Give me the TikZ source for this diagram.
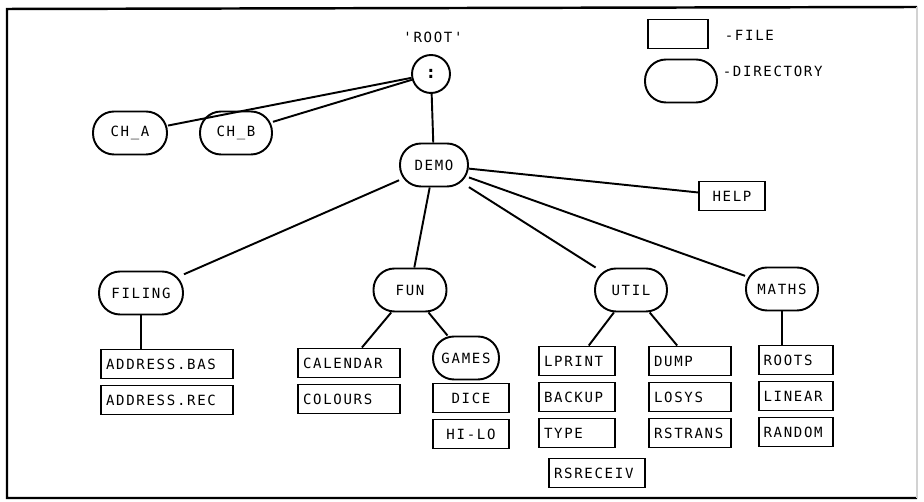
\documentclass[tikz,border=0pt]{standalone}
\usepackage{fontspec}
\newfontfamily\plotter[LetterSpace=12]{DejaVu Sans Mono}
\usetikzlibrary{calc}

\begin{document}
\begin{tikzpicture}[x=0.02cm,y=-0.02cm,line width=1.1pt,
  every node/.style={font=\plotter\fontsize{8}{9}\selectfont},
  dirnode/.style={draw, rounded corners=0.42cm, minimum height=0.86cm, minimum width=#1, inner sep=0pt},
  filenode/.style={draw, minimum height=0.58cm, inner xsep=2.8pt, inner ysep=0pt, text width=#1, align=left}]
\useasboundingbox (0,0) rectangle (924,502);
% frame
\draw[line width=1.4pt] (917,7) -- (7,9) -- (7,498) -- (917,498);
\draw[gray!35, line width=0.6pt] (917,7) -- (917,498);
% legend
\node[filenode=1.0cm] (legfile) at (678,34) {};
\node[anchor=west] (legfiletext) at (718,35) {-FILE};
\node[dirnode=1.44cm] (legdir) at (681,81) {};
\node[anchor=west] (legdirtext) at (716,71) {-DIRECTORY};
% root and top level
\node (rootlabel) at (433,37) {'ROOT'};
\node[draw, circle, minimum size=0.76cm, inner sep=0pt, font=\plotter\bfseries\fontsize{10}{10}\selectfont] (root) at (431,74) {:};
\node[dirnode=1.48cm] (cha) at (130,133) {CH\_A};
\node[dirnode=1.44cm] (chb) at (236,133) {CH\_B};
\node[dirnode=1.36cm] (demo) at (434,165) {DEMO};
\node[filenode=1.12cm, align=center] (help) at (732,196) {HELP};
% sub directories
\node[dirnode=1.68cm] (filing) at (141,293) {FILING};
\node[dirnode=1.46cm] (fun) at (410,290) {FUN};
\node[dirnode=1.32cm] (games) at (466,358) {GAMES};
\node[dirnode=1.44cm] (util) at (631,290) {UTIL};
\node[dirnode=1.44cm] (maths) at (782,289) {MATHS};
% files
\node[filenode=2.44cm] (addrbas) at (167,364) {ADDRESS.BAS};
\node[filenode=2.44cm] (addrrec) at (167,400) {ADDRESS.REC};
\node[filenode=1.84cm] (calendar) at (349,363) {CALENDAR};
\node[filenode=1.84cm] (colours) at (349,399) {COLOURS};
\node[filenode=1.32cm, align=center] (dice) at (471,398) {DICE};
\node[filenode=1.32cm, align=center] (hilo) at (471,434) {HI-LO};
\node[filenode=1.32cm] (lprint) at (577,361) {LPRINT};
\node[filenode=1.32cm] (backup) at (577,397) {BACKUP};
\node[filenode=1.32cm] (type) at (577,433) {TYPE};
\node[filenode=1.72cm] (rsreceiv) at (597,473) {RSRECEIV};
\node[filenode=1.44cm] (dump) at (690,361) {DUMP};
\node[filenode=1.44cm] (losys) at (690,397) {LOSYS};
\node[filenode=1.44cm] (rstrans) at (690,433) {RSTRANS};
\node[filenode=1.30cm] (roots) at (796,360) {ROOTS};
\node[filenode=1.30cm] (linear) at (796,396) {LINEAR};
\node[filenode=1.30cm] (random) at (796,432) {RANDOM};
% connectors
\draw (root) -- (cha);
\draw (root) -- (chb);
\draw (root) -- (demo);
\draw (demo) -- (filing);
\draw (demo) -- (fun);
\draw (demo) -- (util);
\draw (demo) -- (maths);
\draw (demo) -- (help);
\draw (filing.south) -- (filing.south |- addrbas.north);
\draw (fun) -- (calendar);
\draw (fun) -- (games);
\draw (util) -- (lprint);
\draw (util) -- (dump);
\draw (maths.south) -- (maths.south |- roots.north);
\end{tikzpicture}
\end{document}
